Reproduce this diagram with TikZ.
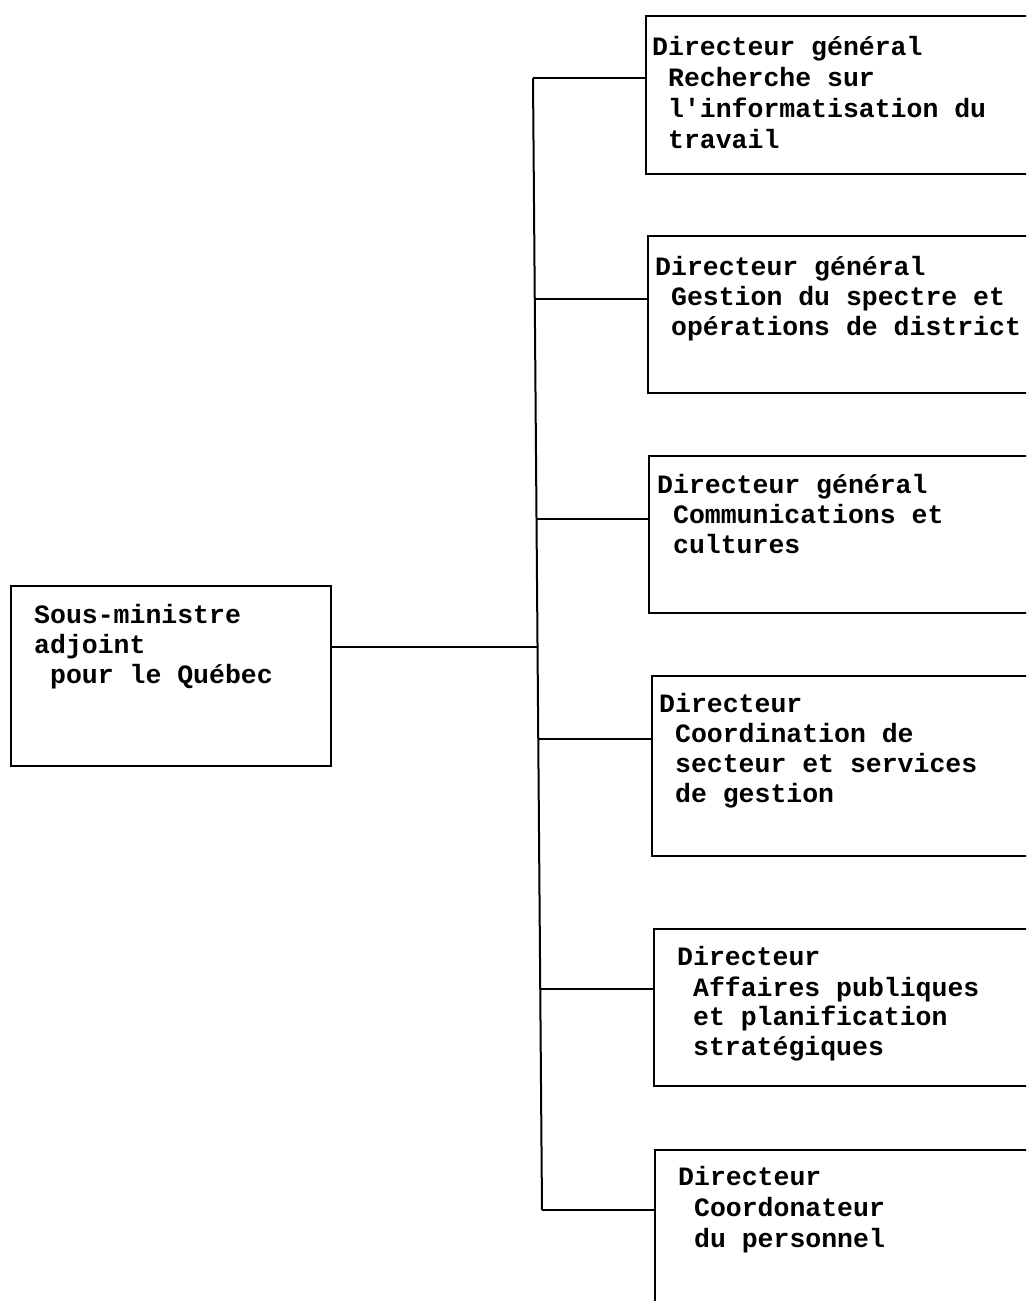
\documentclass[tikz,border=0pt]{standalone}
\usepackage{fontspec}
\newfontfamily\typewriter{Liberation Mono}
\begin{document}
\begin{tikzpicture}[x=1pt,y=-1pt,
  orgbox/.style={draw, line width=2pt, rectangle, anchor=north west, inner sep=0pt},
  line/.style={line width=2pt},
  txt/.style={anchor=base west, inner sep=0pt, font=\typewriter\bfseries\fontsize{26.5}{30.5}\selectfont}]
\useasboundingbox (0,0) rectangle (1026,1301);
\clip (0,0) rectangle (1026,1301);
\fill[white] (0,0) rectangle (1026,1301);

% boxes
\node[orgbox, minimum width=320pt, minimum height=180pt] (sm) at (10,585) {};
\node[orgbox, minimum width=400pt, minimum height=158pt] (b1) at (645,15) {};
\node[orgbox, minimum width=400pt, minimum height=157pt] (b2) at (647,235) {};
\node[orgbox, minimum width=400pt, minimum height=157pt] (b3) at (648,455) {};
\node[orgbox, minimum width=400pt, minimum height=180pt] (b4) at (651,675) {};
\node[orgbox, minimum width=400pt, minimum height=157pt] (b5) at (653,928) {};
\node[orgbox, minimum width=400pt, minimum height=180pt] (b6) at (654,1149) {};

% trunk
\coordinate (top) at (533,78);
\coordinate (bot) at (542,1210);
\coordinate (j1) at (533,78);
\coordinate (j2) at (535,299);
\coordinate (j3) at (537,519);
\coordinate (j0) at (538,647);
\coordinate (j4) at (539,739);
\coordinate (j5) at (540,989);
\coordinate (j6) at (542,1210);
\draw[line] (top) -- (bot);
\draw[line] (sm.east |- j0) -- (j0);
\draw[line] (j1) -- (j1 -| b1.west);
\draw[line] (j2) -- (j2 -| b2.west);
\draw[line] (j3) -- (j3 -| b3.west);
\draw[line] (j4) -- (j4 -| b4.west);
\draw[line] (j5) -- (j5 -| b5.west);
\draw[line] (j6) -- (j6 -| b6.west);

% labels
\node[txt] (sma) at (34,623) {Sous-ministre};
\node[txt] (smb) at (34,653) {adjoint};
\node[txt] (smc) at (34,683) {\ pour le Québec};

\node[txt] (b1a) at (652,55) {Directeur général};
\node[txt] (b1b) at (652,86) {\ Recherche sur};
\node[txt] (b1c) at (652,117) {\ l'informatisation du};
\node[txt] (b1d) at (652,148) {\ travail};

\node[txt] (b2a) at (655,275) {Directeur général};
\node[txt] (b2b) at (655,305) {\ Gestion du spectre et};
\node[txt] (b2c) at (655,335) {\ opérations de district};

\node[txt] (b3a) at (657,493) {Directeur général};
\node[txt] (b3b) at (657,523) {\ Communications et};
\node[txt] (b3c) at (657,553) {\ cultures};

\node[txt] (b4a) at (659,712) {Directeur};
\node[txt] (b4b) at (659,742) {\ Coordination de};
\node[txt] (b4c) at (659,772) {\ secteur et services};
\node[txt] (b4d) at (659,802) {\ de gestion};

\node[txt] (b5a) at (677,965) {Directeur};
\node[txt] (b5b) at (677,996) {\ Affaires publiques};
\node[txt] (b5c) at (677,1025) {\ et planification};
\node[txt] (b5d) at (677,1055) {\ stratégiques};

\node[txt] (b6a) at (678,1185) {Directeur};
\node[txt] (b6b) at (678,1216) {\ Coordonateur};
\node[txt] (b6c) at (678,1247) {\ du personnel};
\end{tikzpicture}
\end{document}
